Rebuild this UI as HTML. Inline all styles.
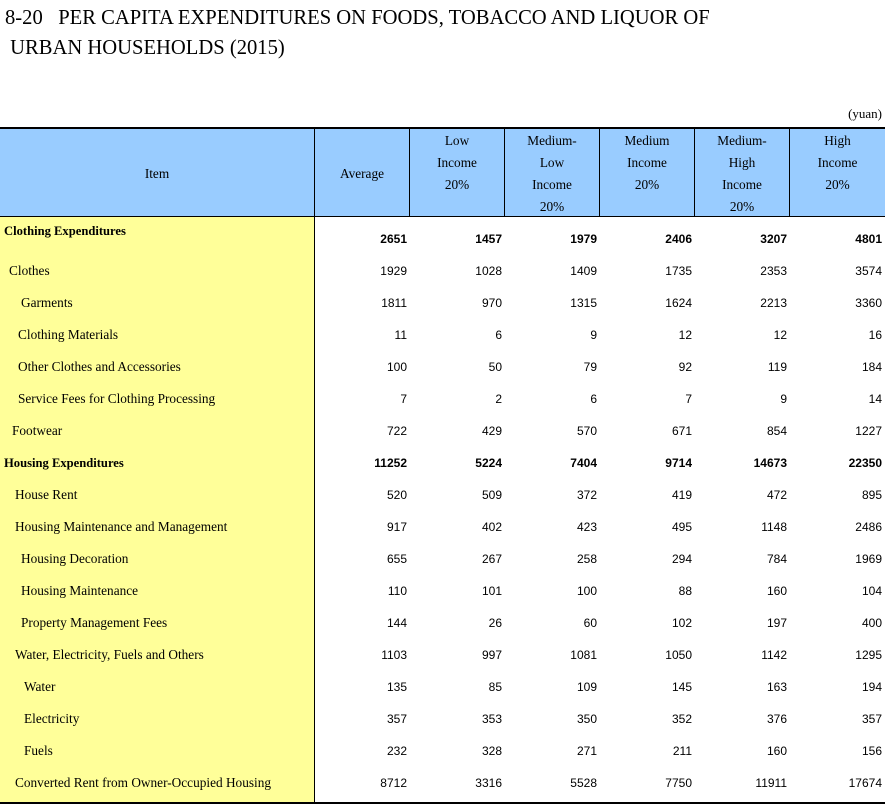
<!DOCTYPE html>
<html>
<head>
<meta charset="utf-8">
<style>
  html, body { margin:0; padding:0; background:#fff; }
  body { width:885px; height:811px; position:relative; overflow:hidden; }
  .t { position:absolute; white-space:pre; font-family:"Liberation Serif", serif; color:#000; }
  .title { font-size:20.6px; line-height:30px; left:5px; }
  .hdr { position:absolute; top:129px; height:87px; background:#99CCFF; }
  .vl { position:absolute; width:1px; background:#000; }
  .hl { position:absolute; left:0; width:885px; background:#000; }
  .htxt { position:absolute; top:130px; width:95px; text-align:center; font-family:"Liberation Serif", serif; font-size:13.3px; line-height:22px; }
  .lab { position:absolute; font-family:"Liberation Serif", serif; font-size:13.3px; line-height:16px; white-space:nowrap; }
  .lab.b { font-weight:bold; font-size:12.6px; }
  .num { position:absolute; width:92px; text-align:right; font-family:"Liberation Sans", sans-serif; font-size:12px; line-height:16px; }
  .num.b { font-weight:bold; }
</style>
</head>
<body>
<div class="t title" style="top:3px;">8-20&nbsp;&nbsp;&nbsp;PER CAPITA EXPENDITURES ON FOODS, TOBACCO AND LIQUOR OF</div>
<div class="t title" style="top:33px;">&nbsp;URBAN HOUSEHOLDS (2015)</div>
<div class="t" style="top:106px; right:3px; font-size:13px; line-height:16px;">(yuan)</div>

<div class="hdr" style="left:0; width:885px;"></div>
<div style="position:absolute; left:0; top:217px; width:314px; height:585px; background:#FFFF99;"></div>

<div class="hl" style="top:127px; height:2px;"></div>
<div class="hl" style="top:216px; height:1px;"></div>
<div class="hl" style="top:802px; height:2px;"></div>
<div class="vl" style="left:314px; top:129px; height:673px;"></div>
<div class="vl" style="left:409px; top:129px; height:87px;"></div>
<div class="vl" style="left:504px; top:129px; height:87px;"></div>
<div class="vl" style="left:599px; top:129px; height:87px;"></div>
<div class="vl" style="left:694px; top:129px; height:87px;"></div>
<div class="vl" style="left:789px; top:129px; height:87px;"></div>

<div class="htxt" style="left:0; width:314px; top:163px;">Item</div>
<div class="htxt" style="left:315px; width:94px; top:163px;">Average</div>
<div class="htxt" style="left:410px; width:94px;">Low<br>Income<br>20%</div>
<div class="htxt" style="left:505px; width:94px;">Medium-<br>Low<br>Income<br>20%</div>
<div class="htxt" style="left:600px; width:94px;">Medium<br>Income<br>20%</div>
<div class="htxt" style="left:695px; width:94px;">Medium-<br>High<br>Income<br>20%</div>
<div class="htxt" style="left:790px; width:95px;">High<br>Income<br>20%</div>

<div class="lab b" style="left:4px; top:223px;">Clothing Expenditures</div>
<div class="num b" style="left:315px; top:231px;">2651</div>
<div class="num b" style="left:410px; top:231px;">1457</div>
<div class="num b" style="left:505px; top:231px;">1979</div>
<div class="num b" style="left:600px; top:231px;">2406</div>
<div class="num b" style="left:695px; top:231px;">3207</div>
<div class="num b" style="left:790px; top:231px;">4801</div>

<div class="lab" style="left:9px; top:263px;">Clothes</div>
<div class="num" style="left:315px; top:263px;">1929</div>
<div class="num" style="left:410px; top:263px;">1028</div>
<div class="num" style="left:505px; top:263px;">1409</div>
<div class="num" style="left:600px; top:263px;">1735</div>
<div class="num" style="left:695px; top:263px;">2353</div>
<div class="num" style="left:790px; top:263px;">3574</div>

<div class="lab" style="left:21px; top:295px;">Garments</div>
<div class="num" style="left:315px; top:295px;">1811</div>
<div class="num" style="left:410px; top:295px;">970</div>
<div class="num" style="left:505px; top:295px;">1315</div>
<div class="num" style="left:600px; top:295px;">1624</div>
<div class="num" style="left:695px; top:295px;">2213</div>
<div class="num" style="left:790px; top:295px;">3360</div>

<div class="lab" style="left:18px; top:327px;">Clothing Materials</div>
<div class="num" style="left:315px; top:327px;">11</div>
<div class="num" style="left:410px; top:327px;">6</div>
<div class="num" style="left:505px; top:327px;">9</div>
<div class="num" style="left:600px; top:327px;">12</div>
<div class="num" style="left:695px; top:327px;">12</div>
<div class="num" style="left:790px; top:327px;">16</div>

<div class="lab" style="left:18px; top:359px;">Other Clothes and Accessories</div>
<div class="num" style="left:315px; top:359px;">100</div>
<div class="num" style="left:410px; top:359px;">50</div>
<div class="num" style="left:505px; top:359px;">79</div>
<div class="num" style="left:600px; top:359px;">92</div>
<div class="num" style="left:695px; top:359px;">119</div>
<div class="num" style="left:790px; top:359px;">184</div>

<div class="lab" style="left:18px; top:391px;">Service Fees for Clothing Processing</div>
<div class="num" style="left:315px; top:391px;">7</div>
<div class="num" style="left:410px; top:391px;">2</div>
<div class="num" style="left:505px; top:391px;">6</div>
<div class="num" style="left:600px; top:391px;">7</div>
<div class="num" style="left:695px; top:391px;">9</div>
<div class="num" style="left:790px; top:391px;">14</div>

<div class="lab" style="left:12px; top:423px;">Footwear</div>
<div class="num" style="left:315px; top:423px;">722</div>
<div class="num" style="left:410px; top:423px;">429</div>
<div class="num" style="left:505px; top:423px;">570</div>
<div class="num" style="left:600px; top:423px;">671</div>
<div class="num" style="left:695px; top:423px;">854</div>
<div class="num" style="left:790px; top:423px;">1227</div>

<div class="lab b" style="left:4px; top:455px;">Housing Expenditures</div>
<div class="num b" style="left:315px; top:455px;">11252</div>
<div class="num b" style="left:410px; top:455px;">5224</div>
<div class="num b" style="left:505px; top:455px;">7404</div>
<div class="num b" style="left:600px; top:455px;">9714</div>
<div class="num b" style="left:695px; top:455px;">14673</div>
<div class="num b" style="left:790px; top:455px;">22350</div>

<div class="lab" style="left:15px; top:487px;">House Rent</div>
<div class="num" style="left:315px; top:487px;">520</div>
<div class="num" style="left:410px; top:487px;">509</div>
<div class="num" style="left:505px; top:487px;">372</div>
<div class="num" style="left:600px; top:487px;">419</div>
<div class="num" style="left:695px; top:487px;">472</div>
<div class="num" style="left:790px; top:487px;">895</div>

<div class="lab" style="left:15px; top:519px;">Housing Maintenance and Management</div>
<div class="num" style="left:315px; top:519px;">917</div>
<div class="num" style="left:410px; top:519px;">402</div>
<div class="num" style="left:505px; top:519px;">423</div>
<div class="num" style="left:600px; top:519px;">495</div>
<div class="num" style="left:695px; top:519px;">1148</div>
<div class="num" style="left:790px; top:519px;">2486</div>

<div class="lab" style="left:21px; top:551px;">Housing Decoration</div>
<div class="num" style="left:315px; top:551px;">655</div>
<div class="num" style="left:410px; top:551px;">267</div>
<div class="num" style="left:505px; top:551px;">258</div>
<div class="num" style="left:600px; top:551px;">294</div>
<div class="num" style="left:695px; top:551px;">784</div>
<div class="num" style="left:790px; top:551px;">1969</div>

<div class="lab" style="left:21px; top:583px;">Housing Maintenance</div>
<div class="num" style="left:315px; top:583px;">110</div>
<div class="num" style="left:410px; top:583px;">101</div>
<div class="num" style="left:505px; top:583px;">100</div>
<div class="num" style="left:600px; top:583px;">88</div>
<div class="num" style="left:695px; top:583px;">160</div>
<div class="num" style="left:790px; top:583px;">104</div>

<div class="lab" style="left:21px; top:615px;">Property Management Fees</div>
<div class="num" style="left:315px; top:615px;">144</div>
<div class="num" style="left:410px; top:615px;">26</div>
<div class="num" style="left:505px; top:615px;">60</div>
<div class="num" style="left:600px; top:615px;">102</div>
<div class="num" style="left:695px; top:615px;">197</div>
<div class="num" style="left:790px; top:615px;">400</div>

<div class="lab" style="left:15px; top:647px;">Water, Electricity, Fuels and Others</div>
<div class="num" style="left:315px; top:647px;">1103</div>
<div class="num" style="left:410px; top:647px;">997</div>
<div class="num" style="left:505px; top:647px;">1081</div>
<div class="num" style="left:600px; top:647px;">1050</div>
<div class="num" style="left:695px; top:647px;">1142</div>
<div class="num" style="left:790px; top:647px;">1295</div>

<div class="lab" style="left:24px; top:679px;">Water</div>
<div class="num" style="left:315px; top:679px;">135</div>
<div class="num" style="left:410px; top:679px;">85</div>
<div class="num" style="left:505px; top:679px;">109</div>
<div class="num" style="left:600px; top:679px;">145</div>
<div class="num" style="left:695px; top:679px;">163</div>
<div class="num" style="left:790px; top:679px;">194</div>

<div class="lab" style="left:24px; top:711px;">Electricity</div>
<div class="num" style="left:315px; top:711px;">357</div>
<div class="num" style="left:410px; top:711px;">353</div>
<div class="num" style="left:505px; top:711px;">350</div>
<div class="num" style="left:600px; top:711px;">352</div>
<div class="num" style="left:695px; top:711px;">376</div>
<div class="num" style="left:790px; top:711px;">357</div>

<div class="lab" style="left:24px; top:743px;">Fuels</div>
<div class="num" style="left:315px; top:743px;">232</div>
<div class="num" style="left:410px; top:743px;">328</div>
<div class="num" style="left:505px; top:743px;">271</div>
<div class="num" style="left:600px; top:743px;">211</div>
<div class="num" style="left:695px; top:743px;">160</div>
<div class="num" style="left:790px; top:743px;">156</div>

<div class="lab" style="left:15px; top:775px;">Converted Rent from Owner-Occupied Housing</div>
<div class="num" style="left:315px; top:775px;">8712</div>
<div class="num" style="left:410px; top:775px;">3316</div>
<div class="num" style="left:505px; top:775px;">5528</div>
<div class="num" style="left:600px; top:775px;">7750</div>
<div class="num" style="left:695px; top:775px;">11911</div>
<div class="num" style="left:790px; top:775px;">17674</div>
</body>
</html>
